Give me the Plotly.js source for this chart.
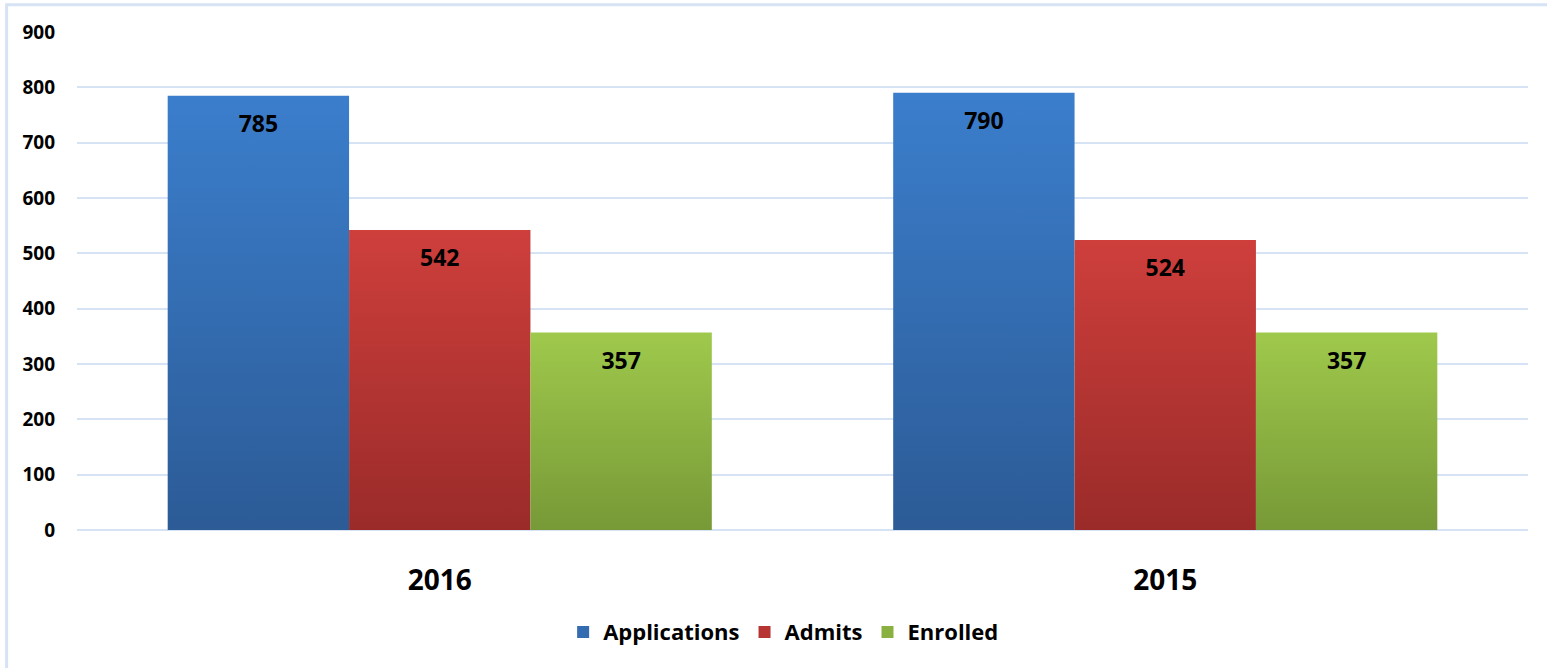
<!DOCTYPE html>
<html>
<head>
<meta charset="utf-8">
<script src="https://cdn.plot.ly/plotly-3.0.1.min.js"></script>
<style>
html,body{margin:0;padding:0;background:#fff;}
#chart{width:1547px;height:668px;}
</style>
</head>
<body>
<div id="chart"></div>
<script>
const categories = ["2016", "2015"];
const applications = [785, 790];
const admits = [542, 524];
const enrolled = [357, 357];
const seriesNames = ["Applications", "Admits", "Enrolled"];
const yTicks = [0, 100, 200, 300, 400, 500, 600, 700, 800, 900];

const FONT = "'Open Sans', Lato, 'DejaVu Sans', sans-serif";
const colors = ["#346cb1", "#b63532", "#8bb042"];
const grads = [["#3b7ecc", "#2c5b96"], ["#ce3f3c", "#9a2b29"], ["#9fc94c", "#779937"]];
const seriesValues = [applications, admits, enrolled];

const data = [];
seriesValues.forEach(function (vals, i) {
  data.push({
    type: "bar", name: seriesNames[i], x: categories, y: vals,
    marker: {color: colors[i], line: {width: 0}},
    hoverinfo: "skip", legendgroup: "g" + i
  });
});
seriesValues.forEach(function (vals, i) {
  data.push({
    type: "scatter", mode: "markers+text", name: seriesNames[i] + " labels",
    x: categories, y: vals, text: vals.map(String),
    textposition: "bottom center",
    textfont: {family: FONT, size: 23, color: "#000", weight: "bold"},
    marker: {size: 29, opacity: 0, color: colors[i]},
    showlegend: false, hoverinfo: "skip", cliponaxis: false, legendgroup: "g" + i
  });
});

const layout = {
  width: 1547, height: 668,
  margin: {l: 77, r: 19, t: 32, b: 138},
  paper_bgcolor: "#ffffff", plot_bgcolor: "#ffffff",
  barmode: "group", bargap: 0.25, bargroupgap: 0,
  scattermode: "group", scattergap: 0.25,
  font: {family: FONT, color: "#000"},
  showlegend: true,
  legend: {
    orientation: "h", x: 0.487, xanchor: "center", y: -0.205, yanchor: "middle",
    font: {family: FONT, size: 22, color: "#000", weight: "bold"},
    itemwidth: 30, traceorder: "normal"
  },
  xaxis: {
    type: "category", showgrid: false, zeroline: false, showline: false,
    ticks: "", ticklabelstandoff: 31,
    tickfont: {family: FONT, size: 28, color: "#000", weight: "bold"}
  },
  yaxis: {
    range: [0, 900], tickvals: yTicks, ticktext: yTicks.map(String),
    showgrid: true, gridcolor: "#d6e3f4", gridwidth: 2,
    zeroline: true, zerolinecolor: "#d6e3f4", zerolinewidth: 2,
    showline: false, ticks: "", ticklabelstandoff: 21,
    tickfont: {family: FONT, size: 19, color: "#000", weight: "bold"}
  },
  shapes: [{
    type: "rect", xref: "paper", yref: "paper",
    x0: -0.0485, x1: 1.2, y0: -0.5, y1: 1.0545,
    line: {color: "#d6e3f4", width: 3}, fillcolor: "rgba(0,0,0,0)", layer: "below"
  }]
};

Plotly.newPlot("chart", data, layout, {displayModeBar: false, staticPlot: true}).then(function () {
  const svg = document.querySelector("#chart .main-svg");
  const ns = "http://www.w3.org/2000/svg";
  let defs = svg.querySelector("defs");
  if (!defs) { defs = document.createElementNS(ns, "defs"); svg.insertBefore(defs, svg.firstChild); }
  grads.forEach(function (g, i) {
    const lg = document.createElementNS(ns, "linearGradient");
    lg.setAttribute("id", "bargrad" + i);
    lg.setAttribute("x1", "0"); lg.setAttribute("y1", "0");
    lg.setAttribute("x2", "0"); lg.setAttribute("y2", "1");
    const s1 = document.createElementNS(ns, "stop");
    s1.setAttribute("offset", "0"); s1.setAttribute("stop-color", g[0]);
    const s2 = document.createElementNS(ns, "stop");
    s2.setAttribute("offset", "1"); s2.setAttribute("stop-color", g[1]);
    lg.appendChild(s1); lg.appendChild(s2); defs.appendChild(lg);
  });
  const traces = document.querySelectorAll("#chart .barlayer .trace");
  traces.forEach(function (t, i) {
    t.querySelectorAll("path").forEach(function (p) {
      p.style.fill = "url(#bargrad" + i + ")";
    });
  });
});
</script>
</body>
</html>
